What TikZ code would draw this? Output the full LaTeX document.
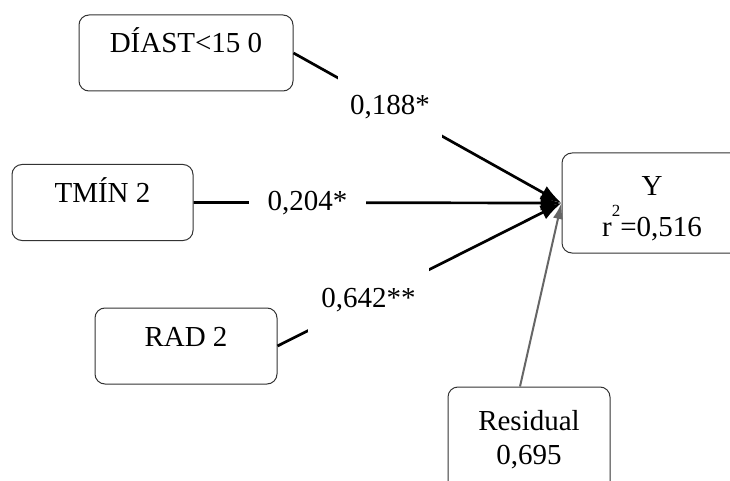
\documentclass[tikz,border=0pt]{standalone}
\usepackage{fontspec}
\setmainfont{Liberation Serif}
\usetikzlibrary{arrows.meta}
\begin{document}
\begin{tikzpicture}[x=1pt, y=-1pt, line join=round, font=\fontsize{29}{34}\selectfont,
  rbox/.style={draw=black!80, line width=1pt, rounded corners=10pt},
  onebox/.style={rbox, minimum height=76pt, text height=12pt, text depth=12pt},
  coef/.style={fill=white, minimum height=64pt, inner ysep=0pt},
  link/.style={line width=2.7pt, -{Latex[length=21pt,width=15pt]}},
  resarrow/.style={draw=black!60, line width=2pt, -{Latex[length=16pt,width=10pt]}}]
  \useasboundingbox (0,0) rectangle (730,481);
  \clip (0,0) rectangle (730,481);
  \node[onebox, minimum width=214pt] (diast) at (186,53) {DÍAST<15 0};
  \node[onebox, minimum width=181pt] (tmin) at (102.5,202.5) {TMÍN 2};
  \node[onebox, minimum width=182pt] (rad) at (186,346) {RAD 2};
  \node[rbox, minimum width=180pt, minimum height=100pt, align=center] (y) at (652,203)
    {\rule{0pt}{30pt}Y\\[7pt]r\raisebox{20pt}{\fontsize{17}{17}\selectfont 2}=0,516};
  \node[rbox, minimum width=162pt, minimum height=105pt, align=center] (resid) at (529,439.5)
    {Residual\\0,695};
  % paths into Y
  \foreach \s/\p/\w/\t in {diast/.36/12pt/{0,188*}, tmin/.31/19pt/{0,204*}, rad/.32/13pt/{0,642**}}
    \draw[link] (\s.east) -- node[coef, pos=\p, inner xsep=\w] {\t} (y.west);
  \draw[resarrow] ([xshift=-9pt]resid.north) -- (y.west);
\end{tikzpicture}
\end{document}
